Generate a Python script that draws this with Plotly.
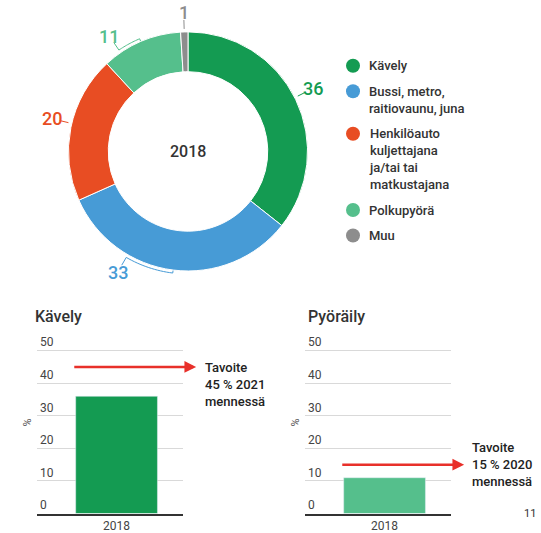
import math
import plotly.graph_objects as go

# ---------------- data ----------------
modes = ["Kävely", "Bussi, metro,<br>raitiovaunu, juna",
         "Henkilöauto<br>kuljettajana<br>ja/tai tai<br>matkustajana",
         "Polkupyörä", "Muu"]
shares_2018 = [36, 33, 20, 11, 1]
donut_center_text = "2018"

bar_titles = ["Kävely", "Pyöräily"]
bar_categories = ["2018"]
walk_values = [36]
bike_values = [11]
walk_target = 45
bike_target = 15
target_texts = ["Tavoite<br>45 % 2021<br>mennessä", "Tavoite<br>15 % 2020<br>mennessä"]
y_ticks = [0, 10, 20, 30, 40, 50]
page_number = "11"

# ---------------- style ----------------
W, H = 541, 533
colors = ["#149B52", "#479BD6", "#E84D23", "#55BF8C", "#8D8D8D"]
FONT = "Roboto"
TXT = "#333333"
PIE_CX, PIE_CY, PIE_R = 188, 152, 120
HOLE = 0.667
label_angle_offsets = [-1, 23, 2, -11, 0]   # label nudges (degrees)
Y_MAX = 56                      # axis range top (room for top tick label)
PX_PER_UNIT = 163.5 / 50
AX_BOTTOM = 515.5
X_RANGE = [-0.545, 0.455]
ARROW_X = [-0.3, 0.545]


def px_to_paper_x(px):
    return px / W


def px_to_paper_y(py):
    return 1 - py / H


fig = go.Figure()

# donut
fig.add_trace(go.Pie(
    values=shares_2018, labels=[m.replace("<br>", " ") for m in modes],
    sort=False, direction="clockwise", rotation=0, hole=HOLE,
    marker=dict(colors=colors, line=dict(color="white", width=1)),
    textinfo="none", hoverinfo="label+value", showlegend=False,
    domain=dict(x=[px_to_paper_x(PIE_CX - PIE_R), px_to_paper_x(PIE_CX + PIE_R)],
                y=[px_to_paper_y(PIE_CY + PIE_R), px_to_paper_y(PIE_CY - PIE_R)]),
))

# bars
fig.add_trace(go.Bar(x=bar_categories, y=walk_values, marker_color=colors[0],
                     xaxis="x", yaxis="y", showlegend=False))
fig.add_trace(go.Bar(x=bar_categories, y=bike_values, marker_color=colors[3],
                     xaxis="x2", yaxis="y2", showlegend=False))

# legend markers on an overlay pixel axis
leg_y = []
y = 66
for m in modes:
    leg_y.append(y)
    n = m.count("<br>") + 1
    y += 17 * (n - 1) + 25.6
fig.add_trace(go.Scatter(x=[353] * len(modes), y=leg_y, mode="markers",
                         marker=dict(size=14, color=colors), xaxis="x3", yaxis="y3",
                         showlegend=False, hoverinfo="skip"))

annotations = []
shapes = []

for m, yy in zip(modes, leg_y):
    n = m.count("<br>") + 1
    annotations.append(dict(x=367, y=yy + 17 * (n - 1) / 2, xref="x3", yref="y3",
                            text=m, showarrow=False, xanchor="left", yanchor="middle",
                            align="left", font=dict(family=FONT, size=13, color=TXT, weight=500)))

# donut value labels + leader brackets
total = sum(shares_2018)
cum = 0
for v, c, off in zip(shares_2018, colors, label_angle_offsets):
    mid = (cum + v / 2) / total * 360
    cum += v
    la = mid + off

    def pt(ang, r):
        a = math.radians(ang)
        return PIE_CX + r * math.sin(a), PIE_CY - r * math.cos(a)

    lx, ly = pt(la, 140)
    annotations.append(dict(x=lx, y=ly, xref="x3", yref="y3", text=str(v), showarrow=False,
                            xanchor="center", yanchor="middle",
                            font=dict(family=FONT, size=18, color=c, weight=500)))
    # connector
    x0, y0 = pt(la, PIE_R + 3)
    x1, y1 = pt(la, PIE_R + 12)
    path = f"M{x1:.2f},{y1:.2f} L{x0:.2f},{y0:.2f}"
    if abs(la - mid) > 3:
        steps = 16
        for i in range(1, steps + 1):
            a = la + (mid - la) * i / steps
            xa, ya = pt(a, PIE_R + 3)
            path += f" L{xa:.2f},{ya:.2f}"
        xt, yt = pt(mid, PIE_R + 0.5)
        path += f" L{xt:.2f},{yt:.2f}"
    shapes.append(dict(type="path", path=path, xref="x3", yref="y3",
                       line=dict(color=c, width=1), layer="above"))

annotations.append(dict(x=PIE_CX, y=PIE_CY, xref="x3", yref="y3", text=donut_center_text,
                        showarrow=False, font=dict(family=FONT, size=16, color=TXT, weight=500)))

# bar titles
for t, xp in zip(bar_titles, [33, 306]):
    annotations.append(dict(x=xp, y=318, xref="x3", yref="y3", text=t, showarrow=False,
                            xanchor="left", yanchor="middle",
                            font=dict(family=FONT, size=16, color=TXT, weight=500)))

# target arrows and texts
for (xa, ya), tgt, txt, ysh, xsh in zip([("x", "y"), ("x2", "y2")], [walk_target, bike_target],
                                        target_texts, [-17.5, 0], [20, 19]):
    annotations.append(dict(x=ARROW_X[1], y=tgt, xref=xa, yref=ya, ax=ARROW_X[0], ay=tgt,
                            axref=xa, ayref=ya, text="", showarrow=True, arrowhead=2,
                            arrowsize=0.9, arrowwidth=2.6, arrowcolor="#E8302A", standoff=0))
    annotations.append(dict(x=X_RANGE[1], y=tgt, xref=xa, yref=ya, text=txt, showarrow=False,
                            xanchor="left", yanchor="middle", align="left",
                            xshift=xsh, yshift=ysh,
                            font=dict(family=FONT, size=13, color="#222222", weight=500)))

annotations.append(dict(x=530, y=515, xref="x3", yref="y3", text=page_number, showarrow=False,
                        font=dict(family=FONT, size=11, color=TXT)))

yaxis_common = dict(range=[0, Y_MAX], tickvals=y_ticks, ticklabelposition="inside top",
                    showgrid=True, gridcolor="#D9D9D9", gridwidth=1, zeroline=False,
                    showline=False, ticks="", fixedrange=True,
                    tickfont=dict(family=FONT, size=12, color="#444444"),
                    title=dict(text="%", font=dict(family=FONT, size=11, color="#555555"),
                               standoff=6))
xaxis_common = dict(showline=True, linecolor="#333333", linewidth=2, ticks="",
                    range=X_RANGE, fixedrange=True,
                    tickfont=dict(family=FONT, size=12, color="#444444"), showgrid=False)

y_dom = [px_to_paper_y(AX_BOTTOM), px_to_paper_y(AX_BOTTOM - Y_MAX * PX_PER_UNIT)]

fig.update_layout(
    width=W, height=H, margin=dict(l=0, r=0, t=0, b=0),
    paper_bgcolor="white", plot_bgcolor="rgba(0,0,0,0)",
    bargap=0.44, showlegend=False,
    font=dict(family=FONT, color=TXT),
    xaxis=dict(domain=[37 / W, 183 / W], anchor="y", **xaxis_common),
    yaxis=dict(domain=y_dom, anchor="x", **yaxis_common),
    xaxis2=dict(domain=[305 / W, 451 / W], anchor="y2", **xaxis_common),
    yaxis2=dict(domain=y_dom, anchor="x2", **yaxis_common),
    xaxis3=dict(domain=[0, 1], range=[0, W], visible=False, anchor="y3", fixedrange=True),
    yaxis3=dict(domain=[0, 1], range=[H, 0], visible=False, anchor="x3", fixedrange=True),
    annotations=annotations, shapes=shapes,
)

fig.write_html("out.html", config={"displayModeBar": False},
               post_script="document.body.style.margin='0';")
